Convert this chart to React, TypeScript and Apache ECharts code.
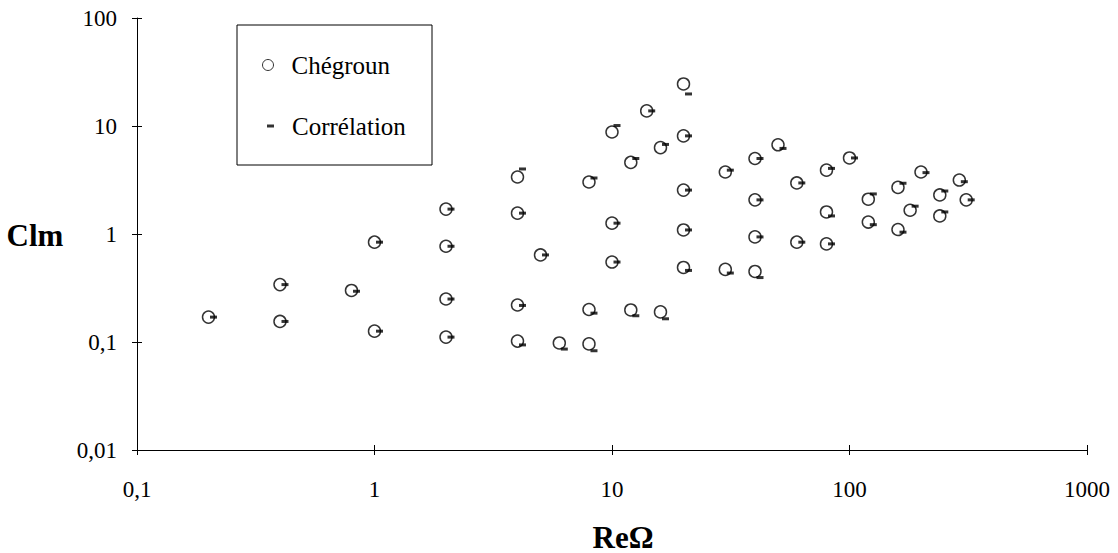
import React, { useEffect, useRef } from 'react';
import * as echarts from 'echarts';

// Reynolds number (ReΩ) of each measurement
const reOmega = [
  0.2, 0.4, 0.4, 0.8, 1, 1, 2, 2, 2, 2,
  4, 4, 4, 4, 5, 6, 8, 8, 8, 10,
  10, 10, 12, 12, 14, 16, 16, 20, 20, 20,
  20, 20, 30, 30, 40, 40, 40, 40, 50, 60,
  60, 80, 80, 80, 100, 120, 120, 160, 160, 180,
  200, 240, 240, 290, 310,
];
// Clm measured (Chégroun)
const clmChegroun = [
  0.17, 0.34, 0.155, 0.3, 0.84, 0.126, 1.7, 0.77, 0.25, 0.111,
  3.37, 1.56, 0.22, 0.102, 0.64, 0.098, 3.03, 0.2, 0.096, 8.8,
  1.26, 0.55, 4.6, 0.198, 13.8, 6.3, 0.19, 24.5, 8.1, 2.55,
  1.09, 0.49, 3.75, 0.47, 5.0, 2.07, 0.94, 0.45, 6.7, 2.97,
  0.84, 3.9, 1.6, 0.81, 5.06, 2.1, 1.29, 2.7, 1.1, 1.66,
  3.75, 2.3, 1.47, 3.16, 2.07,
];
// Clm from the correlation
const clmCorrelation = [
  0.17, 0.34, 0.155, 0.295, 0.84, 0.126, 1.7, 0.77, 0.25, 0.111,
  4.0, 1.56, 0.218, 0.094, 0.64, 0.086, 3.3, 0.185, 0.083, 10.1,
  1.26, 0.55, 5.0, 0.175, 13.8, 6.75, 0.164, 19.8, 8.1, 2.55,
  1.09, 0.46, 3.9, 0.435, 5.0, 2.07, 0.94, 0.395, 6.2, 2.97,
  0.84, 4.05, 1.47, 0.81, 5.06, 2.35, 1.22, 2.95, 1.04, 1.81,
  3.7, 2.5, 1.6, 3.05, 2.07,
];

const seriesNames = ['Chégroun', 'Corrélation'];
const xTickLabels: Record<string, string> = { '-1': '0,1', '0': '1', '1': '10', '2': '100', '3': '1000' };
const yTickLabels: Record<string, string> = { '-2': '0,01', '-1': '0,1', '0': '1', '1': '10', '2': '100' };
const xTitle = 'ReΩ';
const yTitle = 'Clm';

const FONT = "'Liberation Serif', 'Times New Roman', serif";

function fmt(map: Record<string, string>) {
  return (v: number) => {
    const k = String(Math.round(Math.log10(v)));
    return map[k] ?? String(v);
  };
}

export default function App() {
  const ref = useRef<HTMLDivElement>(null);

  useEffect(() => {
    if (!ref.current) return;
    const chart = echarts.init(ref.current, undefined, { renderer: 'svg' });

    const axisCommon = {
      type: 'log' as const,
      logBase: 10,
      splitLine: { show: false },
      minorTick: { show: false },
      minorSplitLine: { show: false },
    };

    const option: any = {
      animation: false,
      backgroundColor: '#fff',
      grid: { left: 137, right: 31, top: 18, bottom: 103, containLabel: false },
      xAxis: [
        {
          ...axisCommon,
          min: 0.1,
          max: 1000,
          position: 'bottom',
          axisLine: { show: true, lineStyle: { color: '#000', width: 1 } },
          axisTick: { show: true, inside: false, length: 5, lineStyle: { color: '#000', width: 1 } },
          axisLabel: { formatter: fmt(xTickLabels), margin: 28, color: '#000', fontFamily: FONT, fontSize: 23 },
        },
        {
          ...axisCommon,
          min: 0.1,
          max: 1000,
          position: 'bottom',
          axisLine: { show: false },
          axisTick: { show: true, inside: true, length: 5, lineStyle: { color: '#000', width: 1 } },
          axisLabel: { show: false },
        },
      ],
      yAxis: [
        {
          ...axisCommon,
          min: 0.01,
          max: 100,
          position: 'left',
          axisLine: { show: true, lineStyle: { color: '#000', width: 1 } },
          axisTick: { show: true, inside: false, length: 5, lineStyle: { color: '#000', width: 1 } },
          axisLabel: { formatter: fmt(yTickLabels), margin: 20, color: '#000', fontFamily: FONT, fontSize: 23 },
        },
        {
          ...axisCommon,
          min: 0.01,
          max: 100,
          position: 'left',
          axisLine: { show: false },
          axisTick: { show: true, inside: true, length: 5, lineStyle: { color: '#000', width: 1 } },
          axisLabel: { show: false },
        },
      ],
      legend: [
        {
          data: [{ name: seriesNames[0], icon: 'circle' }],
          orient: 'vertical',
          left: 262,
          top: 50,
          padding: 0,
          itemWidth: 11,
          itemHeight: 11,
          selectedMode: false,
          itemStyle: { color: '#fff', borderColor: '#000', borderWidth: 1 },
          textStyle: { fontFamily: FONT, fontSize: 25, color: '#000', lineHeight: 30, padding: [0, 0, 0, 13] },
        },
        {
          data: [{ name: seriesNames[1], icon: 'rect' }],
          orient: 'vertical',
          left: 267,
          top: 111,
          padding: 0,
          itemWidth: 7,
          itemHeight: 3,
          selectedMode: false,
          itemStyle: { color: '#000', borderWidth: 0 },
          textStyle: { fontFamily: FONT, fontSize: 25, color: '#000', lineHeight: 30, padding: [0, 0, 0, 13] },
        },
      ],
      graphic: [
        {
          type: 'rect',
          shape: { x: 237, y: 25, width: 195, height: 140 },
          style: { fill: 'none', stroke: '#000', lineWidth: 1 },
          z: 1,
        },
        {
          type: 'text',
          style: {
            text: yTitle,
            x: 35,
            y: 235,
            textAlign: 'center',
            textVerticalAlign: 'middle',
            verticalAlign: 'middle',
            fontFamily: FONT,
            fontSize: 31,
            fontWeight: 'bold',
            fill: '#000',
          },
        },
        {
          type: 'text',
          style: {
            text: xTitle,
            x: 623,
            y: 537,
            textAlign: 'center',
            textVerticalAlign: 'middle',
            verticalAlign: 'middle',
            fontFamily: FONT,
            fontSize: 31,
            fontWeight: 'bold',
            fill: '#000',
          },
        },
      ],
      series: [
        {
          name: seriesNames[0],
          type: 'scatter',
          xAxisIndex: 0,
          yAxisIndex: 0,
          symbol: 'circle',
          symbolSize: 12,
          itemStyle: { color: '#fff', borderColor: '#000', borderWidth: 1.5 },
          z: 2,
          data: reOmega.map((x, i) => [x, clmChegroun[i]]),
        },
        {
          name: seriesNames[1],
          type: 'scatter',
          xAxisIndex: 0,
          yAxisIndex: 0,
          symbol: 'rect',
          symbolSize: [7, 3],
          symbolOffset: [5, 0],
          itemStyle: { color: '#000' },
          z: 3,
          data: reOmega.map((x, i) => [x, clmCorrelation[i]]),
        },
      ],
    };

    chart.setOption(option);
    return () => chart.dispose();
  }, []);

  return (
    <div
      ref={ref}
      style={{ position: 'fixed', left: 0, top: 0, width: 1118, height: 553, background: '#fff' }}
    />
  );
}
